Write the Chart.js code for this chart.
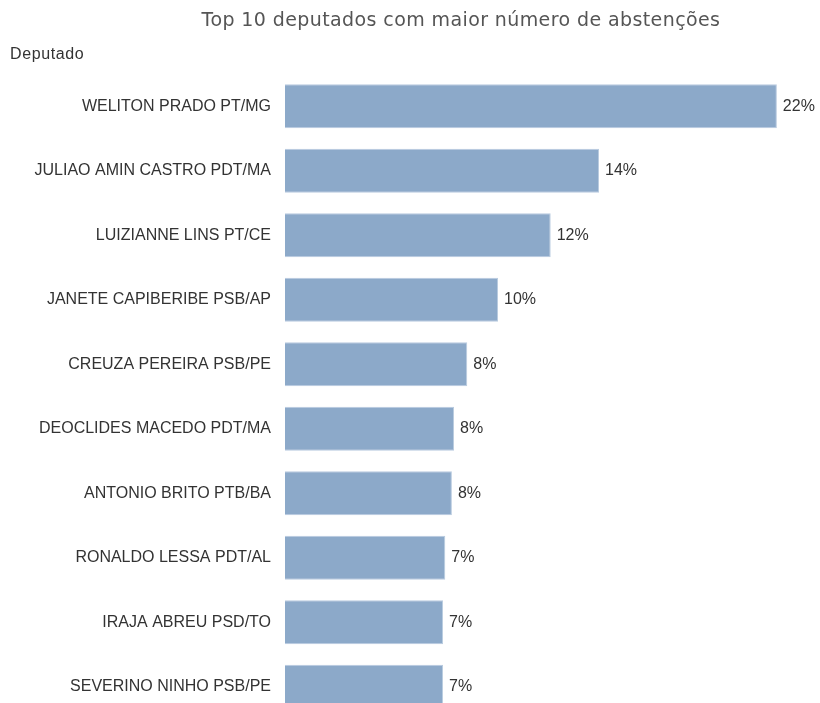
<!DOCTYPE html>
<html>
<head>
<meta charset="utf-8">
<script src="https://cdn.jsdelivr.net/npm/chart.js@4"></script>
<style>
  html, body { margin: 0; padding: 0; background: #fff; overflow: hidden; }
  #wrap { width: 820px; height: 703px; overflow: hidden; }
  canvas { display: block; }
</style>
</head>
<body>
<div id="wrap"><canvas id="chart" width="820" height="720"></canvas></div>
<script>
const chartTitle = 'Top 10 deputados com maior número de abstenções';
const axisTitle = 'Deputado';
const deputados = [
    'WELITON PRADO PT/MG',
    'JULIAO AMIN CASTRO PDT/MA',
    'LUIZIANNE LINS PT/CE',
    'JANETE CAPIBERIBE PSB/AP',
    'CREUZA PEREIRA PSB/PE',
    'DEOCLIDES MACEDO PDT/MA',
    'ANTONIO BRITO PTB/BA',
    'RONALDO LESSA PDT/AL',
    'IRAJA ABREU PSD/TO',
    'SEVERINO NINHO PSB/PE'
];
// % de abstencoes
const abstencoes = [22.4, 14.3, 12.1, 9.7, 8.3, 7.7, 7.6, 7.3, 7.2, 7.2];

const labelFont = '"Liberation Sans", Arial, sans-serif';

// titulo e rotulo do eixo
const headerPlugin = {
    id: 'header',
    afterDraw(chart) {
        const ctx = chart.ctx;
        ctx.save();
        ctx.textBaseline = 'middle';
        ctx.fillStyle = '#555';
        ctx.font = '19px "DejaVu Sans", sans-serif';
        ctx.letterSpacing = '0.4px';
        ctx.textAlign = 'center';
        ctx.fillText(chartTitle, 461, 21);
        ctx.fillStyle = '#333';
        ctx.font = '16px ' + labelFont;
        ctx.letterSpacing = '0.6px';
        ctx.textAlign = 'left';
        ctx.fillText(axisTitle, 10, 55);
        ctx.restore();
    }
};

// valores no fim das barras
const valueLabels = {
    id: 'valueLabels',
    afterDatasetsDraw(chart) {
        const ctx = chart.ctx;
        const meta = chart.getDatasetMeta(0);
        ctx.save();
        ctx.font = '16px ' + labelFont;
        ctx.fillStyle = '#333';
        ctx.textAlign = 'left';
        ctx.textBaseline = 'middle';
        meta.data.forEach((bar, i) => {
            ctx.fillText(Math.round(abstencoes[i]) + '%', bar.x + 6, bar.y);
        });
        ctx.restore();
    }
};

const ctx = document.getElementById('chart').getContext('2d');
new Chart(ctx, {
    type: 'bar',
    data: {
        labels: deputados,
        datasets: [{
            data: abstencoes,
            backgroundColor: '#8ca9c9',
            borderColor: '#b9cbdf',
            borderWidth: 1,
            barPercentage: 0.68,
            categoryPercentage: 1
        }]
    },
    options: {
        indexAxis: 'y',
        responsive: false,
        animation: false,
        // o canvas passa da janela: a ultima barra fica cortada, como no original
        layout: { padding: { top: 74, right: 8, bottom: 1, left: 0 } },
        plugins: {
            legend: { display: false },
            tooltip: { enabled: false }
        },
        scales: {
            x: { display: false, min: 0, max: 24 },
            y: {
                grid: { display: false },
                border: { display: false },
                ticks: { color: '#333', font: { family: labelFont, size: 16 }, padding: 6 },
                afterFit(scale) {
                    scale.width = 285;
                    scale.paddingTop = 0;
                    scale.paddingBottom = 0;
                }
            }
        }
    },
    plugins: [headerPlugin, valueLabels]
});
</script>
</body>
</html>
